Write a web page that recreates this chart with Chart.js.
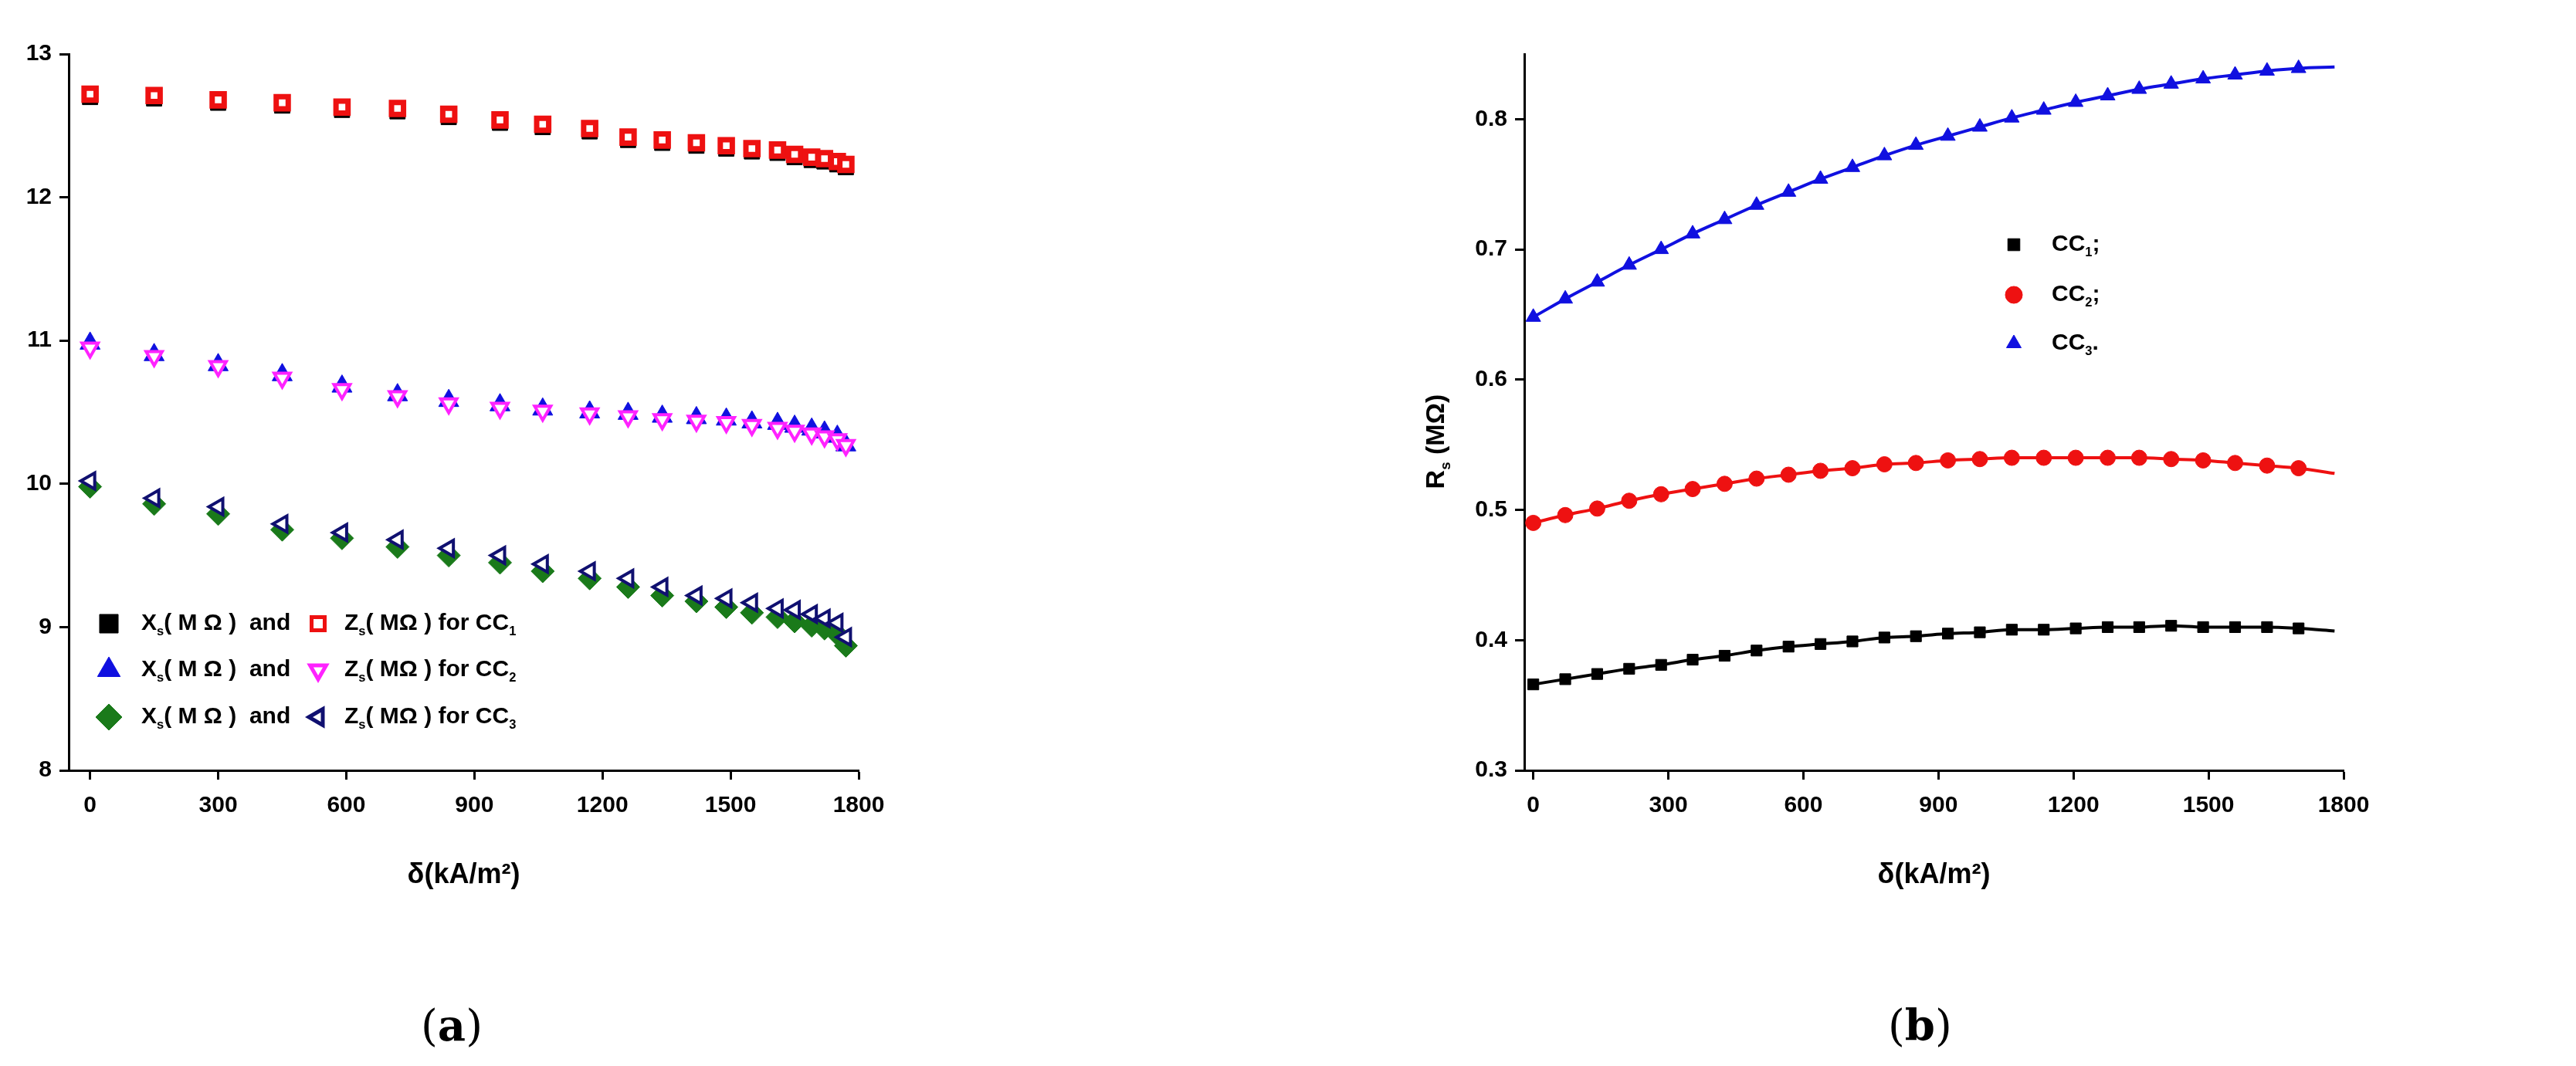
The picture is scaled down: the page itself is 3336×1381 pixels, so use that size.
<!DOCTYPE html>
<html>
<head>
<meta charset="utf-8">
<script src="https://cdn.jsdelivr.net/npm/chart.js@4/dist/chart.umd.min.js"></script>
<style>
  body { margin: 0; background: #fff; width: 3336px; height: 1381px; position: relative; overflow: hidden; }
  .box { position: absolute; top: 0; }
  .lbl { position: absolute; top: 1295px; font-family: "DejaVu Serif", serif; font-size: 56px; }
</style>
</head>
<body>
<div class="box" style="left:0px;width:1500px;height:1160px"><canvas id="chartA"></canvas></div>
<div class="box" style="left:1700px;width:1636px;height:1160px"><canvas id="chartB"></canvas></div>
<div class="lbl" style="left:545px">(<b>a</b>)</div>
<div class="lbl" style="left:2445px">(<b>b</b>)</div>
<script>
// panel (a): current density vs reactance / impedance
const deltaA = [0, 150, 300, 450, 590, 720, 840, 960, 1060, 1170, 1260, 1340, 1420, 1490, 1550, 1610, 1650, 1690, 1720, 1750, 1770];
const xs1 = [12.70, 12.69, 12.66, 12.64, 12.61, 12.60, 12.56, 12.52, 12.49, 12.46, 12.40, 12.38, 12.36, 12.34, 12.32, 12.31, 12.28, 12.26, 12.25, 12.23, 12.21];
const zs1 = [12.72, 12.71, 12.68, 12.66, 12.63, 12.62, 12.58, 12.54, 12.51, 12.48, 12.42, 12.40, 12.38, 12.36, 12.34, 12.33, 12.30, 12.28, 12.27, 12.25, 12.23];
const xs2 = [10.98, 10.90, 10.83, 10.76, 10.68, 10.62, 10.58, 10.55, 10.52, 10.50, 10.49, 10.47, 10.46, 10.45, 10.43, 10.42, 10.40, 10.38, 10.36, 10.33, 10.27];
const zs2 = [10.95, 10.89, 10.82, 10.74, 10.66, 10.61, 10.56, 10.53, 10.51, 10.49, 10.47, 10.45, 10.44, 10.43, 10.41, 10.39, 10.37, 10.35, 10.33, 10.31, 10.27];
const xs3 = [9.98, 9.86, 9.79, 9.68, 9.62, 9.56, 9.50, 9.45, 9.39, 9.34, 9.28, 9.22, 9.18, 9.14, 9.10, 9.07, 9.04, 9.01, 8.99, 8.95, 8.87];
const zs3 = [10.02, 9.90, 9.84, 9.72, 9.66, 9.61, 9.55, 9.50, 9.44, 9.39, 9.34, 9.28, 9.22, 9.20, 9.17, 9.13, 9.12, 9.09, 9.06, 9.03, 8.93];

// panel (b): series resistance
const deltaB = [0, 71, 142, 213, 284, 354, 425, 496, 567, 638, 709, 780, 850, 921, 992, 1063, 1134, 1205, 1276, 1346, 1417, 1488, 1559, 1630, 1700];
const rs1 = [0.366, 0.370, 0.374, 0.378, 0.381, 0.385, 0.388, 0.392, 0.395, 0.397, 0.399, 0.402, 0.403, 0.405, 0.406, 0.408, 0.408, 0.409, 0.410, 0.410, 0.411, 0.410, 0.410, 0.410, 0.409];
const rs2 = [0.490, 0.496, 0.501, 0.507, 0.512, 0.516, 0.520, 0.524, 0.527, 0.530, 0.532, 0.535, 0.536, 0.538, 0.539, 0.540, 0.540, 0.540, 0.540, 0.540, 0.539, 0.538, 0.536, 0.534, 0.532];
const rs3 = [0.648, 0.662, 0.675, 0.688, 0.700, 0.712, 0.723, 0.734, 0.744, 0.754, 0.763, 0.772, 0.780, 0.787, 0.794, 0.801, 0.807, 0.813, 0.818, 0.823, 0.827, 0.831, 0.834, 0.837, 0.839];
const fitEndX = 1780;
const fitEnd = [0.407, 0.528, 0.840];

const xTicks = [0, 300, 600, 900, 1200, 1500, 1800];
const yTicksA = [8, 9, 10, 11, 12, 13];
const yTicksB = [0.3, 0.4, 0.5, 0.6, 0.7, 0.8];
const FONT = "Liberation Sans";

function pts(xs, ys) { return xs.map((x, i) => ({ x: x, y: ys[i] })); }

function axes(xmin, ymin, ymax, yTicks, leftW, fmt) {
  var common = {
    grid: { drawOnChartArea: false, tickLength: 12, tickColor: "#000", tickWidth: 3 },
    border: { display: true, color: "#000", width: 3 },
    ticks: { color: "#000", font: { family: FONT, size: 30, weight: "bold" } },
  };
  return {
    x: Object.assign({}, common, {
      type: "linear", min: xmin, max: 1800,
      afterBuildTicks: (s) => { s.ticks = xTicks.map((v) => ({ value: v })); },
      ticks: Object.assign({}, common.ticks, { padding: 16, callback: (v) => String(v) }),
      title: { display: true, text: "δ(kA/m²)", color: "#000", font: { family: FONT, size: 36, weight: "bold" }, padding: { top: 26 } },
      afterFit: (s) => { s.height = 162; },
    }),
    y: Object.assign({}, common, {
      min: ymin, max: ymax,
      afterBuildTicks: (s) => { s.ticks = yTicks.map((v) => ({ value: v })); },
      ticks: Object.assign({}, common.ticks, { padding: 10, callback: fmt }),
      afterFit: (s) => { s.width = leftW; },
    }),
  };
}

// draws text with a subscript part: parts = [[text, isSub], ...]
function subText(ctx, parts, x, y, size) {
  ctx.textBaseline = "middle";
  ctx.textAlign = "left";
  parts.forEach(function (p) {
    ctx.font = "bold " + (p[1] ? size * 0.55 : size) + "px " + FONT;
    ctx.fillText(p[0], x, p[1] ? y + size * 0.35 : y);
    x += ctx.measureText(p[0]).width;
  });
}

const legendA = {
  id: "legendA",
  afterDraw(chart) {
    var ctx = chart.ctx;
    var rows = [
      ["rect", "#000", "#000", 0, "rect", "#fff", "#ee1111", 0, "1"],
      ["triangle", "#1010e0", "#1010e0", 0, "triangle", "#fff", "#ff22ff", 180, "2"],
      ["rectRot", "#1a7a1a", "#1a7a1a", 0, "triangle", "#fff", "#101070", -90, "3"],
    ];
    var ys = [808, 868, 929];
    rows.forEach(function (r, i) {
      var y = ys[i];
      ctx.save();
      ctx.fillStyle = r[1]; ctx.strokeStyle = r[2]; ctx.lineWidth = 1;
      Chart.helpers.drawPoint(ctx, { pointStyle: r[0], radius: 17, rotation: r[3], borderWidth: 1 }, 141, y);
      ctx.fillStyle = r[5]; ctx.strokeStyle = r[6]; ctx.lineWidth = 5;
      Chart.helpers.drawPoint(ctx, { pointStyle: r[4], radius: 12, rotation: r[7], borderWidth: 5 }, 412, y);
      ctx.fillStyle = "#000";
      subText(ctx, [["X", false], ["s", true], ["( M Ω )  and", false]], 183, y, 30);
      subText(ctx, [["Z", false], ["s", true], ["( MΩ ) for CC", false], [r[8], true]], 446, y, 30);
      ctx.restore();
    });
  },
};

const legendB = {
  id: "legendB",
  afterDraw(chart) {
    var ctx = chart.ctx;
    var rows = [["rect", "#000", "1", ";"], ["circle", "#ee1111", "2", ";"], ["triangle", "#1010e0", "3", "."]];
    var ys = [317, 382, 445];
    ctx.save();
    rows.forEach(function (r, i) {
      ctx.fillStyle = r[1]; ctx.strokeStyle = r[1]; ctx.lineWidth = 1;
      Chart.helpers.drawPoint(ctx, { pointStyle: r[0], radius: 11, rotation: 0, borderWidth: 1 }, 908, ys[i]);
      ctx.fillStyle = "#000";
      subText(ctx, [["CC", false], [r[2], true], [r[3], false]], 957, ys[i], 30);
    });
    // y axis title with subscript
    ctx.translate(161, 571);
    ctx.rotate(-Math.PI / 2);
    ctx.fillStyle = "#000";
    ctx.font = "bold 34px " + FONT;
    var w = ctx.measureText("R").width + ctx.measureText("(MΩ)").width + 22;
    subText(ctx, [["R", false], ["s", true], [" (MΩ)", false]], -w / 2, 0, 34);
    ctx.restore();
  },
};

function sq(data, col, fill, style, r, bw, rot) {
  return { data: data, pointStyle: style, pointRadius: r, pointRotation: rot || 0, backgroundColor: fill, borderColor: col, pointBorderWidth: bw, showLine: false };
}

// first dataset is drawn on top, so open markers come first
new Chart(document.getElementById("chartA"), {
  type: "scatter",
  data: {
    datasets: [
      sq(pts(deltaA, zs1), "#ee1111", "#fff", "rect", 11, 7),
      sq(pts(deltaA, zs2), "#ff22ff", "#fff", "triangle", 12, 4, 180),
      sq(pts(deltaA, zs3), "#101070", "#fff", "triangle", 12, 4, -90),
      sq(pts(deltaA, xs1), "#000", "#000", "rect", 14, 1),
      sq(pts(deltaA, xs2), "#1010e0", "#1010e0", "triangle", 15, 1),
      sq(pts(deltaA, xs3), "#1a7a1a", "#1a7a1a", "rectRot", 15, 1),
    ],
  },
  options: {
    responsive: true, maintainAspectRatio: false, animation: false, devicePixelRatio: 1,
    layout: { padding: { top: 70, right: 388, left: 0, bottom: 0 } },
    plugins: { legend: { display: false }, tooltip: { enabled: false } },
    scales: axes(-50, 8, 13, yTicksA, 89, (v) => String(v)),
  },
  plugins: [legendA],
});

function fit(xs, ys, end, col) {
  return { data: pts(xs.concat([fitEndX]), ys.concat([end])), showLine: true, borderColor: col, borderWidth: 4, pointRadius: 0, cubicInterpolationMode: "monotone" };
}

new Chart(document.getElementById("chartB"), {
  type: "scatter",
  data: {
    datasets: [
      sq(pts(deltaB, rs1), "#000", "#000", "rect", 10, 1),
      sq(pts(deltaB, rs2), "#ee1111", "#ee1111", "circle", 10, 1),
      sq(pts(deltaB, rs3), "#1010e0", "#1010e0", "triangle", 11, 1),
      fit(deltaB, rs1, fitEnd[0], "#000"),
      fit(deltaB, rs2, fitEnd[1], "#ee1111"),
      fit(deltaB, rs3, fitEnd[2], "#1010e0"),
    ],
  },
  options: {
    responsive: true, maintainAspectRatio: false, animation: false, devicePixelRatio: 1,
    layout: { padding: { top: 70, right: 301, left: 0, bottom: 0 } },
    plugins: { legend: { display: false }, tooltip: { enabled: false } },
    scales: axes(-20, 0.3, 0.85, yTicksB, 274, (v) => v.toFixed(1)),
  },
  plugins: [legendB],
});
</script>
</body>
</html>
